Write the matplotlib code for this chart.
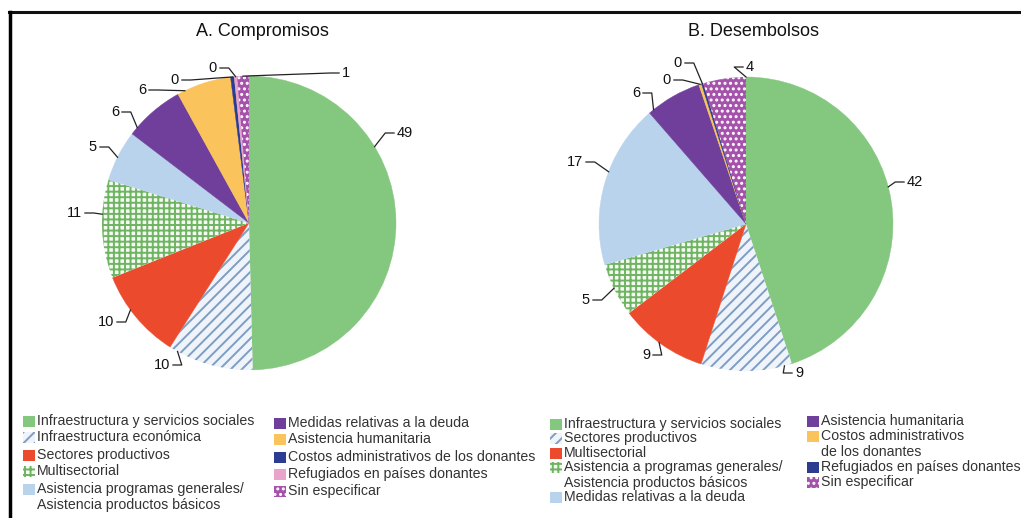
import numpy as np
import matplotlib
matplotlib.use('Agg')
import matplotlib.pyplot as plt
from matplotlib.patches import Rectangle
from matplotlib.lines import Line2D

plt.rcParams['font.family'] = ['Liberation Sans', 'DejaVu Sans']
plt.rcParams['hatch.linewidth'] = 1.4

W, H = 1021, 518

# A. Compromisos
comp_names = ['Infraestructura y servicios sociales', 'Infraestructura económica',
              'Sectores productivos', 'Multisectorial',
              'Asistencia programas generales/\nAsistencia productos básicos',
              'Medidas relativas a la deuda', 'Asistencia humanitaria',
              'Costos administrativos de los donantes', 'Refugiados en países donantes',
              'Sin especificar']
comp_share = [49.5, 9.4, 9.9, 10.8, 5.6, 6.6, 6.0, 0.4, 0.3, 1.3]
comp_text = ['49', '10', '10', '11', '5', '6', '6', '0', '0', '1']

# B. Desembolsos
desem_names = ['Infraestructura y servicios sociales', 'Sectores productivos',
               'Multisectorial',
               'Asistencia a programas generales/\nAsistencia productos básicos',
               'Medidas relativas a la deuda', 'Asistencia humanitaria',
               'Costos administrativos\nde los donantes', 'Refugiados en países donantes',
               'Sin especificar']
desem_share = [45.0, 10.0, 9.7, 5.9, 18.1, 6.2, 0.3, 0.2, 4.7]
desem_text = ['42', '9', '9', '5', '17', '6', '0', '0', '4']

# style per slot: (face, hatch, hatch colour)
styles = [
    ('#84c77f', None, None),
    ('#eef4fa', '///', '#7f9dc2'),
    ('#ec4a2c', None, None),
    ('#f4faf1', '+++', '#6fb462'),
    ('#b9d3ec', None, None),
    ('#6f3f9b', None, None),
    ('#fbc35c', None, None),
    ('#2c3d91', None, None),
    ('#eaa3cb', None, None),
    ('#a552ab', '...', '#ffffff'),
]
comp_style = [0, 1, 2, 3, 4, 5, 6, 7, 8, 9]
desem_style = [0, 1, 2, 3, 4, 5, 6, 7, 9]

# label anchor positions (px): x of text edge, y, alignment
comp_lab = [(397, 133, 'left'), (170, 365, 'right'), (114, 322, 'right'),
            (82, 213, 'right'), (97, 147, 'right'), (119, 112, 'right'),
            (146, 90, 'right'), (179, 80, 'right'), (217, 68, 'right'),
            (342, 73, 'left')]
desem_lab = [(907, 182, 'left'), (795, 373, 'left'), (650, 355, 'right'),
             (590, 300, 'right'), (583, 162, 'right'), (640, 93, 'right'),
             (671, 80, 'right'), (682, 63, 'right'), (746, 67, 'left')]

R_PX = 147.0
HALF = 200.0

fig = plt.figure(figsize=(W / 100, H / 100), dpi=100)


def draw_pie(cx, cy, shares, texts, style_idx, lab, title, title_x):
    ax = fig.add_axes([(cx - HALF) / W, (H - cy - HALF) / H, 2 * HALF / W, 2 * HALF / H])
    wedges, _ = ax.pie(shares, startangle=90, counterclock=False, radius=1)
    for w, si in zip(wedges, style_idx):
        face, hatch, hc = styles[si]
        w.set_facecolor(face)
        if hatch:
            w.set_hatch(hatch)
            w.set_edgecolor(hc)
            w.set_linewidth(0)
        else:
            w.set_edgecolor(face)
            w.set_linewidth(0.3)
    lim = HALF / R_PX
    ax.set_xlim(-lim, lim)
    ax.set_ylim(-lim, lim)
    ax.set_aspect('equal')
    ax.axis('off')
    fig.text(title_x / W, (H - 32) / H, title, ha='center', va='center', fontsize=13,
             color='#111111')

    for w, t, (px, py, ha) in zip(wedges, texts, lab):
        tx = (px - cx) / R_PX
        ty = -(py - cy) / R_PX
        sgn = 1 if ha == 'right' else -1
        x0 = tx + sgn * 0.02
        x1 = tx + sgn * 0.08
        # attach to the arc at the angle nearest the label
        t1, t2 = sorted([w.theta1, w.theta2])
        span = t2 - t1
        ang = np.degrees(np.arctan2(ty, tx))
        rel = (ang - t1) % 360
        if span < 2:
            ang = (t1 + t2) / 2
        elif rel > span:
            pad = min(3, span / 2)
            ang = t1 + pad if (360 - rel) < (rel - span) else t2 - pad
        a = np.radians(ang)
        ex, ey = np.cos(a), np.sin(a)
        ax.plot([x0, x1, ex], [ty, ty, ey], color='#222222', lw=0.9, clip_on=False)
        ax.text(tx, ty, t, ha=ha, va='center', fontsize=10.5, color='#111111')
    return ax


draw_pie(249, 223, comp_share, comp_text, comp_style, comp_lab, 'A. Compromisos', 262)
draw_pie(746, 224, desem_share, desem_text, desem_style, desem_lab, 'B. Desembolsos', 753)


def legend_block(names, style_idx, rows, cols):
    for i, (name, si) in enumerate(zip(names, style_idx)):
        mx, tx = cols[0] if i < 5 else cols[1]
        y = rows[i]
        nl = name.count('\n')
        yb = y - 8 * nl
        face, hatch, hc = styles[si]
        fig.add_artist(Rectangle((mx / W, (H - yb - 6) / H), 12 / W, 11 / H,
                                 transform=fig.transFigure, facecolor=face,
                                 hatch=hatch, edgecolor=hc if hatch else face,
                                 linewidth=0))
        fig.text(tx / W, (H - y) / H, name, ha='left', va='center', fontsize=10.2,
                 color='#333333', linespacing=1.2)


legend_block(comp_names, comp_style,
             [421, 437, 455, 471, 497, 423, 439, 457, 474, 491],
             [(23, 37), (274, 288)])
legend_block(desem_names, desem_style,
             [424, 438, 453, 475, 497, 421, 444, 467, 482],
             [(550, 564), (807, 821)])

# outer frame (top and left edges visible)
fig.add_artist(Line2D([9 / W, 1], [(H - 12) / H] * 2, color='#111111', lw=2.2,
                      transform=fig.transFigure))
fig.add_artist(Line2D([10 / W] * 2, [0, (H - 12) / H], color='#000000', lw=2.5,
                      transform=fig.transFigure))

fig.savefig('out.png', dpi=100, facecolor='white')
